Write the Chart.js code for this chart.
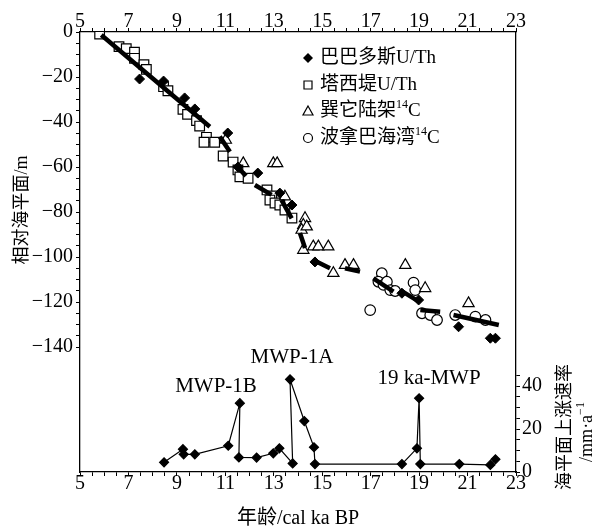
<!DOCTYPE html>
<html><head><meta charset="utf-8">
<script src="https://cdn.jsdelivr.net/npm/chart.js@4/dist/chart.umd.min.js"></script>
<style>html,body{margin:0;padding:0;background:#fff;}#wrap{position:relative;width:597px;height:532px;}</style>
</head><body><div id="wrap"><canvas id="c" width="597" height="532"></canvas></div>
<script>
// ---- Data (age in cal ka BP, relative sea level in m) ----
const barbadosAge   = [7.46, 8.45, 9.32, 9.74, 11.10, 11.52, 12.34, 13.25, 13.75, 14.70, 18.29, 18.98, 20.63, 21.94, 22.15];
const barbadosLevel = [-20.9, -21.8, -29.3, -34.2, -44.9, -60.0, -62.7, -71.6, -76.9, -102.2, -116.1, -119.1, -131.0, -136.1, -136.1];

const tahitiAge   = [5.81, 6.61, 6.91, 7.25, 7.25, 7.64, 7.74, 8.45, 8.63, 9.25, 9.44, 9.81, 9.94, 10.22, 10.12, 10.56, 10.91, 11.32, 11.52, 11.60, 11.94, 12.72, 12.92, 12.84, 13.05, 13.25, 13.46, 13.75];
const tahitiLevel = [-0.9, -6.5, -7.4, -9.0, -11.7, -14.5, -16.6, -24.3, -26.1, -34.4, -36.6, -39.4, -41.8, -46.8, -49.0, -49.0, -55.1, -57.8, -61.3, -64.4, -65.0, -70.2, -72.9, -74.7, -76.0, -76.9, -79.1, -82.7];

const sundaAge   = [11.02, 11.74, 12.98, 13.14, 13.46, 14.29, 14.22, 14.15, 14.36, 14.22, 14.63, 14.84, 15.25, 15.46, 15.94, 16.29, 18.43, 19.25, 21.04];
const sundaLevel = [-48.0, -58.4, -58.4, -58.4, -73.2, -82.8, -85.8, -88.0, -86.5, -96.9, -95.4, -95.4, -95.4, -107.2, -103.6, -103.6, -103.6, -113.9, -120.6];

const bonaparteAge   = [16.98, 17.46, 17.32, 17.53, 17.67, 17.81, 18.01, 18.77, 18.84, 19.12, 19.46, 19.74, 20.49, 21.32, 21.74];
const bonaparteLevel = [-123.6, -107.2, -111.0, -112.4, -111.0, -114.7, -115.1, -111.4, -114.7, -125.0, -125.8, -128.0, -125.8, -126.5, -128.0];

// fitted trend segments (start/end)
const trendX1 = [5.88, 10.77, 11.43, 12.22, 13.32, 14.08, 14.63, 15.94, 17.11, 18.22, 19.05, 20.42];
const trendY1 = [-1.3, -46.5, -59.1, -68.0, -74.7, -89.3, -101.3, -105.0, -109.5, -114.7, -123.6, -125.8];
const trendX2 = [10.36, 11.19, 11.85, 12.91, 13.74, 14.29, 15.32, 16.56, 17.94, 18.96, 19.87, 22.29];
const trendY2 = [-42.1, -53.2, -64.0, -72.4, -82.8, -96.0, -105.0, -106.5, -115.4, -119.6, -124.3, -130.2];

// rate of sea-level rise (mm/a)
const rateAge   = [8.47, 9.25, 9.28, 9.74, 11.12, 11.60, 11.56, 12.29, 12.98, 13.23, 13.78, 13.67, 14.26, 14.66, 14.70, 18.29, 18.91, 19.00, 19.05, 20.66, 21.94, 22.15];
const rateValue = [4.5, 10.6, 8.2, 8.2, 12.2, 32.0, 6.8, 6.7, 8.7, 11.0, 4.0, 43.1, 23.7, 11.5, 3.7, 3.7, 11.0, 34.3, 3.7, 3.7, 3.3, 5.9];

// tick labels
const xTickLabels = [5, 7, 9, 11, 13, 15, 17, 19, 21, 23];
const levelTickLabels = [0, -20, -40, -60, -80, -100, -120, -140];
const rateTickLabels = [0, 20, 40];

const annotations = [
  {text: 'MWP-1B', x: 216, y: 386},
  {text: 'MWP-1A', x: 292, y: 357},
  {text: '19 ka-MWP', x: 429, y: 378}
];

// ---- build ----
const pts = (xs, ys) => xs.map((x, i) => ({x: x, y: ys[i]}));
const trendData = [];
trendX1.forEach((x, i) => {
  trendData.push({x: x, y: trendY1[i]});
  trendData.push({x: trendX2[i], y: trendY2[i]});
  trendData.push({x: trendX2[i], y: null});
});

const SERIF = "'Liberation Serif', 'Noto Sans CJK SC', serif";
const tickFont = {family: SERIF, size: 20};
const minus = v => (v < 0 ? '\u2212' + (-v) : String(v));

const range = (a, b, s) => { const r = []; for (let v = a; s > 0 ? v <= b + 1e-9 : v >= b - 1e-9; v += s) r.push(Math.round(v * 100) / 100); return r; };

const xAxisCommon = {
  type: 'linear', min: 5, max: 23,
  afterBuildTicks: s => { s.ticks = range(5, 23, 0.5).map(v => ({value: v})); },
  grid: {drawOnChartArea: false, drawTicks: true, tickLength: 4, tickColor: '#000', tickWidth: 1},
  border: {color: '#000', width: 1.3}
};
const xTicks = pad => ({font: tickFont, color: '#000', padding: pad, maxRotation: 0, autoSkip: false,
  callback: v => (xTickLabels.includes(v) ? String(v) : '')});

const textPlugin = {
  id: 'texts',
  afterDraw(chart) {
    const ctx = chart.ctx;
    ctx.save();
    ctx.fillStyle = '#000';
    ctx.strokeStyle = '#000';
    // annotations
    ctx.font = '21px ' + SERIF;
    ctx.textAlign = 'center';
    ctx.textBaseline = 'middle';
    annotations.forEach(a => ctx.fillText(a.text, a.x, a.y));

    // bottom title
    ctx.font = '20px ' + SERIF;
    ctx.fillText('年龄/cal ka BP', 298, 519);

    // left title
    ctx.save();
    ctx.translate(22, 210);
    ctx.rotate(-Math.PI / 2);
    ctx.font = '18px ' + SERIF;
    ctx.fillText('相对海平面/m', 0, 0);
    ctx.restore();

    // right title (two lines)
    ctx.save();
    ctx.translate(565, 427);
    ctx.rotate(-Math.PI / 2);
    ctx.font = '18px ' + SERIF;
    ctx.fillText('海平面上涨速率', 0, 0);
    ctx.restore();
    ctx.save();
    ctx.translate(587, 432);
    ctx.rotate(-Math.PI / 2);
    ctx.font = '18px ' + SERIF;
    const t1 = '/mm·a', t2 = '\u22121';
    ctx.textAlign = 'left';
    const w1 = ctx.measureText(t1).width;
    ctx.font = '12px ' + SERIF;
    const w2 = ctx.measureText(t2).width;
    const start = -(w1 + w2) / 2;
    ctx.font = '18px ' + SERIF;
    ctx.fillText(t1, start, 0);
    ctx.font = '12px ' + SERIF;
    ctx.fillText(t2, start + w1, -6);
    ctx.restore();

    // legend
    const lx = 308, tx = 320;
    const rows = [
      {y: 58, kind: 'diamond', main: '巴巴多斯U/Th', sup: ''},
      {y: 85, kind: 'square', main: '塔西堤U/Th', sup: ''},
      {y: 111, kind: 'triangle', main: '巽它陆架', sup: '14'},
      {y: 138, kind: 'circle', main: '波拿巴海湾', sup: '14'}
    ];
    ctx.lineWidth = 1.2;
    rows.forEach(r => {
      ctx.beginPath();
      if (r.kind === 'diamond') {
        ctx.moveTo(lx, r.y - 5); ctx.lineTo(lx + 5, r.y); ctx.lineTo(lx, r.y + 5); ctx.lineTo(lx - 5, r.y); ctx.closePath();
        ctx.fill();
      } else if (r.kind === 'square') {
        ctx.rect(lx - 4, r.y - 4, 8, 8); ctx.stroke();
      } else if (r.kind === 'triangle') {
        ctx.moveTo(lx, r.y - 5); ctx.lineTo(lx + 5, r.y + 4); ctx.lineTo(lx - 5, r.y + 4); ctx.closePath(); ctx.stroke();
      } else {
        ctx.arc(lx, r.y, 4.5, 0, Math.PI * 2); ctx.stroke();
      }
      ctx.textAlign = 'left';
      ctx.textBaseline = 'middle';
      ctx.font = '19px ' + SERIF;
      ctx.fillText(r.main, tx, r.y);
      if (r.sup) {
        let w = ctx.measureText(r.main).width;
        ctx.font = '12px ' + SERIF;
        ctx.fillText(r.sup, tx + w, r.y - 6);
        const ws = ctx.measureText(r.sup).width;
        ctx.font = '19px ' + SERIF;
        ctx.fillText('C', tx + w + ws, r.y);
      }
    });
    ctx.restore();
  }
};

new Chart(document.getElementById('c'), {
  data: {
    datasets: [
      {type: 'line', label: 'trend', data: trendData, xAxisID: 'x', yAxisID: 'y',
       borderColor: '#000', borderWidth: 4.5, pointRadius: 0, spanGaps: false, tension: 0, borderCapStyle: 'butt'},
      {type: 'scatter', label: '巴巴多斯U/Th', data: pts(barbadosAge, barbadosLevel), xAxisID: 'x', yAxisID: 'y',
       pointStyle: 'rectRot', pointRadius: 5, backgroundColor: '#000', borderColor: '#000', borderWidth: 1},
      {type: 'scatter', label: '塔西堤U/Th', data: pts(tahitiAge, tahitiLevel), xAxisID: 'x', yAxisID: 'y',
       pointStyle: 'rect', pointRadius: 6.8, backgroundColor: '#fff', borderColor: '#000', borderWidth: 1.2},
      {type: 'scatter', label: '巽它陆架14C', data: pts(sundaAge, sundaLevel), xAxisID: 'x', yAxisID: 'y',
       pointStyle: 'triangle', pointRadius: 6.5, backgroundColor: '#fff', borderColor: '#000', borderWidth: 1.2},
      {type: 'scatter', label: '波拿巴海湾14C', data: pts(bonaparteAge, bonaparteLevel), xAxisID: 'x', yAxisID: 'y',
       pointStyle: 'circle', pointRadius: 5.3, backgroundColor: '#fff', borderColor: '#000', borderWidth: 1.2},
      {type: 'line', label: 'rate', data: pts(rateAge, rateValue), xAxisID: 'x', yAxisID: 'y2',
       borderColor: '#000', borderWidth: 1.2, tension: 0,
       pointStyle: 'rectRot', pointRadius: 4.5, pointBackgroundColor: '#000', pointBorderColor: '#000'}
    ]
  },
  options: {
    responsive: false,
    animation: false,
    devicePixelRatio: 1,
    layout: {padding: 0},
    plugins: {legend: {display: false}, tooltip: {enabled: false}},
    scales: {
      x: Object.assign({}, xAxisCommon, {position: 'bottom', ticks: xTicks(-4), afterFit: s => { s.height = 60; }}),
      x2: Object.assign({}, xAxisCommon, {position: 'top', ticks: xTicks(-6), afterFit: s => { s.height = 32; }}),
      y: {
        type: 'linear', position: 'left', min: -440 / 2.25, max: 0,
        afterBuildTicks: s => { s.ticks = range(0, -140, -5).map(v => ({value: v})); },
        afterFit: s => { s.width = 80; },
        ticks: {font: tickFont, color: '#000', padding: 3, autoSkip: false,
                callback: v => (levelTickLabels.includes(v) ? minus(v) : '')},
        grid: {drawOnChartArea: false, drawTicks: true, tickLength: 4, tickColor: '#000'},
        border: {color: '#000', width: 1.3}
      },
      y2: {
        type: 'linear', position: 'right', min: 0, max: 440 / 2.15,
        afterBuildTicks: s => { s.ticks = range(0, 45, 5).map(v => ({value: v})); },
        afterFit: s => { s.width = 81; },
        ticks: {font: tickFont, color: '#000', padding: 2, autoSkip: false,
                callback: v => (rateTickLabels.includes(v) ? String(v) : '')},
        grid: {drawOnChartArea: false, drawTicks: true, tickLength: 4, tickColor: '#000'},
        border: {color: '#000', width: 1.3}
      }
    }
  },
  plugins: [textPlugin]
});
</script></body></html>
